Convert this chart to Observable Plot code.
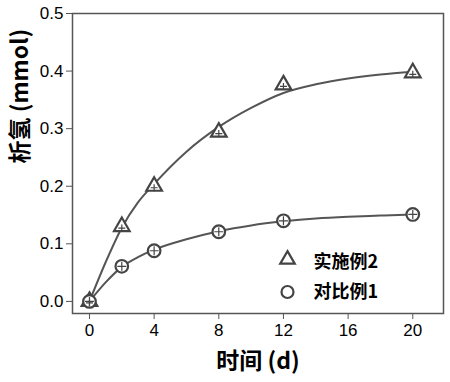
<!DOCTYPE html>
<html><head><meta charset="utf-8">
<script src="https://cdn.jsdelivr.net/npm/d3@7"></script>
<script src="https://cdn.jsdelivr.net/npm/@observablehq/plot@0.6"></script>
<style>
body{margin:0;background:#fff;}
#wrap{width:450px;height:382px;}
</style></head><body><div id="wrap"></div>
<script>
const days = [0, 2, 4, 8, 12, 20];
const ex2 = [0, 0.13, 0.2, 0.294, 0.376, 0.397];
const cmp1 = [0, 0.061, 0.088, 0.121, 0.140, 0.151];
const fitDays = [0, 1, 2, 3, 4, 6, 8, 10, 12, 14, 16, 18, 20];
const fitEx2 = [0, 0.068, 0.128, 0.172, 0.204, 0.26, 0.303, 0.336, 0.362, 0.377, 0.387, 0.394, 0.399];
const fitCmp1 = [0, 0.033, 0.06, 0.077, 0.09, 0.108, 0.122, 0.132, 0.139, 0.144, 0.147, 0.149, 0.151];
const xTicks = [0, 4, 8, 12, 16, 20];
const yTicks = [0, 0.1, 0.2, 0.3, 0.4, 0.5];
const seriesNames = ["实施例2", "对比例1"];
const xTitle = "时间 (d)";
const yTitle = "析氢 (mmol)";

const pts = (xs, ys) => xs.map((x, i) => ({x, y: ys[i]}));
const ptsEx2 = pts(days, ex2), ptsCmp1 = pts(days, cmp1);
const fitA = pts(fitDays, fitEx2), fitB = pts(fitDays, fitCmp1);
const gray = "#555";
const cjk = "'Noto Sans CJK SC', 'Liberation Sans', sans-serif";

const chart = Plot.plot({
  width: 450, height: 382,
  marginLeft: 72, marginTop: 13, marginRight: 7, marginBottom: 69,
  style: {fontFamily: "'Liberation Sans', Arial, sans-serif", fontSize: "17px", color: "#000", background: "#fff"},
  x: {domain: [-1.05, 21.9]},
  y: {domain: [-0.021, 0.5]},
  marks: [
    Plot.frame({stroke: gray, strokeWidth: 1.5}),
    Plot.axisX({ticks: xTicks, tickSize: 6, tickPadding: 4, stroke: gray, label: null, tickFormat: d3.format("d")}),
    Plot.axisY({ticks: yTicks, tickSize: 6, tickPadding: 3, stroke: gray, label: null, tickFormat: d3.format(".1f")}),
    Plot.line(fitA, {x: "x", y: "y", curve: "monotone-x", stroke: gray, strokeWidth: 2}),
    Plot.line(fitB, {x: "x", y: "y", curve: "monotone-x", stroke: gray, strokeWidth: 2}),
    Plot.dot(ptsEx2, {x: "x", y: "y", symbol: "triangle", r: 5.8, stroke: "#444", strokeWidth: 2.2, fill: "#fff"}),
    Plot.dot(ptsCmp1, {x: "x", y: "y", symbol: "circle", r: 6.3, stroke: "#444", strokeWidth: 2.2, fill: "#fff"}),
    Plot.dot(ptsEx2, {x: "x", y: "y", symbol: "plus", r: 2.4, dy: 1.5, stroke: "#444", strokeWidth: 1.2}),
    Plot.dot(ptsCmp1, {x: "x", y: "y", symbol: "plus", r: 3, stroke: "#444", strokeWidth: 1.2}),
    // legend
    Plot.dot([seriesNames[0]], {frameAnchor: "bottom-right", dx: -156, dy: -54, symbol: "triangle", r: 5.4, stroke: "#444", strokeWidth: 2.2, fill: "#fff"}),
    Plot.dot([seriesNames[1]], {frameAnchor: "bottom-right", dx: -156, dy: -21.5, symbol: "circle", r: 6, stroke: "#444", strokeWidth: 2.2, fill: "#fff"}),
    Plot.text([seriesNames[0]], {frameAnchor: "bottom-right", dx: -130, dy: -51, text: d => d, textAnchor: "start", lineAnchor: "middle", fontSize: 18, fontWeight: "bold", fontFamily: cjk, fill: "#000"}),
    Plot.text([seriesNames[1]], {frameAnchor: "bottom-right", dx: -130, dy: -21, text: d => d, textAnchor: "start", lineAnchor: "middle", fontSize: 18, fontWeight: "bold", fontFamily: cjk, fill: "#000"}),
    // axis titles
    Plot.text([xTitle], {frameAnchor: "bottom", dy: 48, text: d => d, lineAnchor: "middle", fontSize: 23, fontWeight: "bold", fontFamily: cjk, fill: "#000"}),
    Plot.text([yTitle], {frameAnchor: "left", dx: -52, rotate: -90, text: d => d, lineAnchor: "middle", fontSize: 23, fontWeight: "bold", fontFamily: cjk, fill: "#000"})
  ]
});
document.getElementById("wrap").appendChild(chart);
</script></body></html>
